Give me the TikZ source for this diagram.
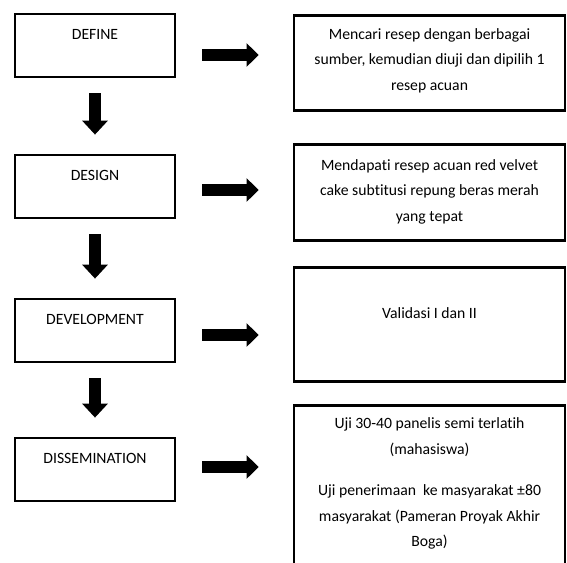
\documentclass[tikz,border=0pt]{standalone}
\usepackage{fontspec}
\setmainfont{Carlito}[Ligatures=CommonOff]
\usetikzlibrary{arrows.meta, positioning}

\begin{document}
\begin{tikzpicture}[x=1pt, y=-1pt,
  stage/.style={draw, line width=2.8pt, minimum width=160pt, inner sep=0pt, text height=25pt, text depth=38pt, font=\fontsize{15.7}{19}\selectfont},
  descbox/.style={draw, line width=2.8pt, minimum width=271pt, anchor=north, inner sep=0pt},
  desc/.style={align=center, inner sep=0pt, anchor=north, font=\fontsize{15.7}{25.5}\selectfont},
  darr/.style={line width=12pt, -{Triangle[width=25pt, length=14pt]}, shorten <=15pt, shorten >=19pt},
  rarr/.style={line width=12pt, -{Triangle[width=23pt, length=12pt]}, shorten <=26pt, shorten >=34pt}]
\useasboundingbox (0,0) rectangle (567,562);
\node[stage] (define) at (95,45.5) {DEFINE};
\node[stage] (design) at (95,186.5) {DESIGN};
\node[stage] (develop) at (95,330.5) {DEVELOPMENT};
\node[stage] (dissem) at (95,469.5) {DISSEMINATION};
\node[descbox, minimum height=95pt] (d1) at (429.5,14) {};
\node[descbox, minimum height=96pt] (d2) at (429.5,143) {};
\node[descbox, minimum height=114pt] (d3) at (429.5,266) {};
\node[descbox, minimum height=170pt] (d4) at (429.5,404) {};
\node[desc, below=14pt of d1.north] (t1) {Mencari resep dengan berbagai\\sumber, kemudian diuji dan dipilih 1\\resep acuan};
\node[desc, below=16pt of d2.north] (t2) {Mendapati resep acuan red velvet\\cake subtitusi repung beras merah\\yang tepat};
\node[desc, below=41pt of d3.north] (t3) {Validasi I dan II};
\node[desc, below=13.5pt of d4.north] (t4) {Uji 30-40 panelis semi terlatih\\(mahasiswa)\\[16pt]Uji penerimaan\ \ ke masyarakat ±80\\masyarakat (Pameran Proyak Akhir\\Boga)};
\draw[darr] (define) -- (design);
\draw[darr] (design) -- (develop);
\draw[darr] (develop) -- (dissem);
\foreach \s/\d/\y in {define/d1/55, design/d2/190, develop/d3/335, dissem/d4/467}
  \draw[rarr] (\s.east |- 0,\y) -- (\d.west |- 0,\y);
\end{tikzpicture}
\end{document}
